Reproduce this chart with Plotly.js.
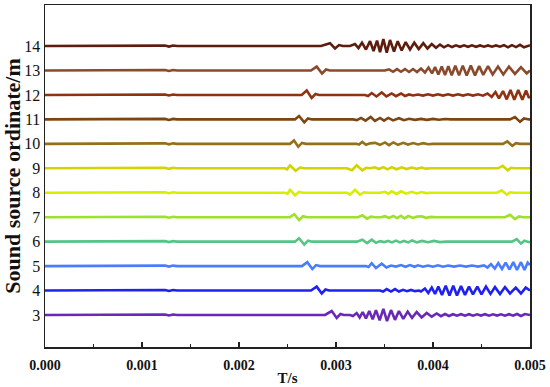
<!DOCTYPE html>
<html><head><meta charset="utf-8">
<script src="https://cdn.plot.ly/plotly-3.0.1.min.js"></script>
<style>html,body{margin:0;padding:0;background:#fff}#chart{width:550px;height:387px}</style>
</head><body><div id="chart"></div>
<script>
// Source positions (y baselines) and line colours
var sources = [14, 13, 12, 11, 10, 9, 8, 7, 6, 5, 4, 3];
var colors = ['#5e1c0c', '#8c4a2c', '#8e3212', '#7c4612', '#94701a', '#d2d400', '#d6ee00', '#9ee02a', '#55c486', '#4a7cff', '#2020f0', '#6a28b8'];
var yTickVals = [3, 4, 5, 6, 7, 8, 9, 10, 11, 12, 13, 14];
var xTickVals = [0, 0.001, 0.002, 0.003, 0.004, 0.005];

// Waveform key points: time (ms) and offset from baseline (m)
var t14 = [0, 1.186, 1.237, 1.278, 1.320, 1.361, 2.845, 2.938, 2.990, 3.031, 3.072, 3.144, 3.196, 3.232, 3.268, 3.309, 3.351, 3.387, 3.423, 3.454, 3.488, 3.523, 3.557, 3.598, 3.636, 3.677, 3.718, 3.763, 3.807, 3.853, 3.900, 3.943, 3.987, 4.031, 4.072, 4.113, 4.155, 4.196, 4.237, 4.278, 4.320, 4.361, 4.402, 4.443, 4.485, 4.526, 4.567, 4.608, 4.649, 4.691, 4.732, 4.773, 4.814, 4.856, 4.897, 4.938, 4.990, 5.0];
var a14 = [0, 0, 0.02, -0.02, 0.02, 0, 0, 0.12, -0.10, 0.04, 0, 0, 0.08, -0.08, 0.14, -0.14, 0.20, -0.20, 0.22, -0.25, 0.29, -0.27, 0.25, -0.22, 0.20, -0.18, 0.16, -0.14, 0.14, -0.12, 0.12, -0.10, 0.08, -0.07, 0.06, -0.05, 0.04, -0.04, 0.03, -0.03, 0.03, -0.03, 0.03, -0.03, 0.025, -0.025, 0.025, -0.025, 0.025, -0.025, 0.04, -0.05, 0.04, -0.04, 0.05, -0.05, 0.02, 0];

var t13 = [0, 1.186, 1.237, 1.278, 1.320, 1.361, 2.742, 2.801, 2.856, 2.897, 2.938, 3.505, 3.546, 3.588, 3.629, 3.670, 3.711, 3.753, 3.794, 3.835, 3.876, 3.917, 3.954, 3.990, 4.021, 4.055, 4.090, 4.124, 4.158, 4.193, 4.230, 4.268, 4.307, 4.347, 4.390, 4.433, 4.476, 4.518, 4.567, 4.615, 4.670, 4.725, 4.783, 4.845, 4.907, 4.966, 5.0];
var a13 = [0, 0, 0.02, -0.02, 0.02, 0, 0, 0.16, -0.12, 0.04, 0, 0, 0.05, -0.05, 0.06, -0.05, 0.06, -0.06, 0.06, -0.06, 0.08, -0.08, 0.12, -0.12, 0.14, -0.16, 0.16, -0.18, 0.18, -0.20, 0.20, -0.20, 0.20, -0.20, 0.20, -0.20, 0.18, -0.18, 0.18, -0.16, 0.16, -0.16, 0.16, -0.14, 0.14, -0.12, 0];

var t12 = [0, 1.186, 1.237, 1.278, 1.320, 1.361, 2.646, 2.698, 2.749, 2.789, 2.825, 3.299, 3.330, 3.368, 3.417, 3.471, 3.520, 3.574, 3.618, 3.670, 3.711, 3.753, 3.794, 3.845, 3.897, 3.948, 4.000, 4.051, 4.103, 4.155, 4.206, 4.258, 4.309, 4.361, 4.412, 4.464, 4.515, 4.562, 4.605, 4.644, 4.680, 4.722, 4.760, 4.799, 4.838, 4.879, 4.921, 4.959, 4.990, 5.0];
var a12 = [0, 0, 0.02, -0.02, 0.02, 0, 0, 0.18, -0.12, 0.04, 0, 0, -0.04, 0.08, -0.06, 0.10, -0.06, 0.06, -0.05, 0.06, -0.04, 0.02, -0.02, 0.02, -0.025, 0.025, -0.025, 0.025, -0.025, 0.025, -0.025, 0.025, -0.025, 0.025, -0.025, 0.025, -0.03, 0.06, -0.08, 0.12, -0.14, 0.16, -0.18, 0.20, -0.20, 0.20, -0.20, 0.18, -0.12, -0.06];

var t11 = [0, 1.186, 1.237, 1.278, 1.320, 1.361, 2.577, 2.619, 2.673, 2.711, 2.753, 3.175, 3.216, 3.258, 3.304, 3.358, 3.402, 3.454, 3.495, 3.539, 3.588, 3.649, 3.701, 3.753, 3.814, 3.876, 3.938, 4.000, 4.062, 4.124, 4.186, 4.794, 4.845, 4.897, 4.938, 4.990, 5.0];
var a11 = [0, 0, 0.02, -0.02, 0.02, 0, 0, 0.14, -0.12, 0.04, 0, 0, -0.03, 0.06, -0.05, 0.10, -0.06, 0.06, -0.05, 0.06, -0.04, 0.05, -0.03, 0.025, -0.02, 0.02, -0.02, 0.02, -0.015, 0.015, 0, 0, 0.10, -0.10, 0.04, 0, 0];

var t10 = [0, 1.186, 1.237, 1.278, 1.320, 1.361, 2.526, 2.567, 2.611, 2.649, 2.691, 3.213, 3.237, 3.271, 3.309, 3.351, 3.402, 3.454, 3.505, 3.546, 3.591, 3.639, 3.694, 3.742, 3.797, 3.845, 3.900, 3.948, 4.000, 4.722, 4.766, 4.817, 4.856, 4.897, 5.0];
var a10 = [0, 0, 0.02, -0.02, 0.02, 0, 0, 0.14, -0.12, 0.04, 0, 0, -0.03, 0.08, -0.04, 0.02, 0.04, -0.04, 0.06, -0.05, 0.06, -0.04, 0.04, -0.03, 0.03, -0.025, 0.03, -0.015, 0, 0, 0.10, -0.08, 0.03, 0, 0];

var t9 = [0, 1.186, 1.237, 1.278, 1.320, 1.361, 2.474, 2.495, 2.526, 2.584, 2.629, 2.670, 3.113, 3.165, 3.213, 3.271, 3.309, 3.351, 3.402, 3.443, 3.488, 3.531, 3.574, 3.624, 3.677, 3.727, 3.780, 3.830, 3.883, 3.928, 3.979, 4.670, 4.718, 4.770, 4.804, 4.845, 5.0];
var a9 = [0, 0, 0.02, -0.02, 0.02, 0, 0, -0.04, 0.12, -0.10, 0.03, 0, 0, -0.08, 0.12, -0.08, 0.02, 0, 0.04, -0.03, 0.05, -0.04, 0.05, -0.04, 0.04, -0.03, 0.03, -0.02, 0.025, -0.015, 0, 0, 0.10, -0.08, 0.02, 0, 0];

var t8 = [0, 1.186, 1.237, 1.278, 1.320, 1.361, 2.474, 2.500, 2.526, 2.577, 2.619, 2.660, 3.113, 3.144, 3.196, 3.247, 3.289, 3.330, 3.454, 3.505, 3.539, 3.574, 3.624, 3.670, 3.722, 3.780, 3.830, 3.883, 3.928, 3.979, 4.660, 4.708, 4.760, 4.794, 4.835, 5.0];
var a8 = [0, 0, 0.02, -0.02, 0.02, 0, 0, -0.04, 0.12, -0.10, 0.03, 0, 0, -0.08, 0.12, -0.08, 0.02, 0, 0, 0.04, -0.04, 0.06, -0.05, 0.06, -0.04, 0.04, -0.03, 0.03, -0.015, 0, 0, 0.10, -0.08, 0.02, 0, 0];

var t7 = [0, 1.186, 1.237, 1.278, 1.320, 1.361, 2.526, 2.570, 2.619, 2.660, 2.701, 3.227, 3.271, 3.320, 3.361, 3.402, 3.464, 3.505, 3.546, 3.591, 3.629, 3.670, 3.706, 3.745, 3.794, 3.835, 3.883, 3.928, 3.979, 4.031, 4.742, 4.794, 4.845, 4.887, 4.928, 5.0];
var a7 = [0, 0, 0.02, -0.02, 0.02, 0, 0, 0.12, -0.12, 0.04, 0, 0, 0.08, -0.06, 0.02, 0, 0, 0.04, -0.03, 0.05, -0.04, 0.06, -0.05, 0.05, -0.03, 0.025, 0.04, -0.025, 0.012, 0, 0, 0.10, -0.08, 0.03, 0, 0];

var t6 = [0, 1.186, 1.237, 1.278, 1.320, 1.361, 2.577, 2.619, 2.673, 2.711, 2.753, 3.216, 3.271, 3.320, 3.368, 3.412, 3.454, 3.495, 3.536, 3.577, 3.618, 3.660, 3.701, 3.745, 3.784, 3.835, 3.887, 3.948, 4.010, 4.072, 4.134, 4.814, 4.863, 4.907, 4.943, 4.990, 5.0];
var a6 = [0, 0, 0.02, -0.02, 0.02, 0, 0, 0.14, -0.12, 0.04, 0, 0, 0.08, -0.06, 0.08, -0.05, 0.02, -0.02, 0.03, -0.03, 0.04, -0.03, 0.03, -0.03, 0.05, -0.03, 0.03, -0.025, 0.03, -0.02, 0, 0, 0.10, -0.08, 0.04, -0.02, 0];

var t5 = [0, 1.186, 1.237, 1.278, 1.320, 1.361, 2.649, 2.704, 2.756, 2.794, 2.835, 3.309, 3.335, 3.368, 3.412, 3.471, 3.520, 3.567, 3.618, 3.670, 3.716, 3.763, 3.809, 3.845, 3.897, 3.948, 4.000, 4.051, 4.103, 4.155, 4.216, 4.278, 4.340, 4.402, 4.464, 4.526, 4.562, 4.598, 4.637, 4.673, 4.711, 4.749, 4.789, 4.828, 4.866, 4.907, 4.943, 4.976, 5.0];
var a5 = [0, 0, 0.02, -0.02, 0.02, 0, 0, 0.16, -0.12, 0.04, 0, 0, -0.04, 0.12, -0.08, 0.10, -0.06, 0.02, -0.02, 0.04, -0.03, 0.04, -0.03, 0.03, -0.025, 0.025, -0.025, 0.03, -0.025, 0.02, -0.02, 0.02, -0.02, 0.02, -0.02, 0.025, -0.06, 0.08, -0.10, 0.12, -0.12, 0.14, -0.14, 0.16, -0.16, 0.16, -0.16, 0.14, 0.04];

var t4 = [0, 1.186, 1.237, 1.278, 1.320, 1.361, 2.742, 2.801, 2.853, 2.892, 2.928, 3.454, 3.485, 3.523, 3.567, 3.608, 3.649, 3.691, 3.732, 3.773, 3.814, 3.856, 3.876, 3.917, 3.951, 3.987, 4.021, 4.055, 4.093, 4.131, 4.170, 4.209, 4.247, 4.289, 4.330, 4.371, 4.412, 4.457, 4.500, 4.546, 4.593, 4.639, 4.691, 4.742, 4.794, 4.853, 4.907, 4.956, 5.0];
var a4 = [0, 0, 0.02, -0.02, 0.02, 0, 0, 0.16, -0.12, 0.04, 0, 0, -0.04, 0.06, -0.04, 0.06, -0.04, 0.03, -0.025, 0.025, -0.025, 0, -0.04, 0.08, -0.10, 0.12, -0.14, 0.16, -0.18, 0.20, -0.20, 0.20, -0.20, 0.18, -0.18, 0.16, -0.16, 0.16, -0.16, 0.16, -0.14, 0.14, -0.14, 0.14, -0.12, 0.12, -0.12, 0.12, 0];

var t3 = [0, 1.186, 1.237, 1.278, 1.320, 1.361, 2.887, 2.956, 3.007, 3.046, 3.082, 3.144, 3.175, 3.213, 3.244, 3.275, 3.309, 3.343, 3.378, 3.412, 3.450, 3.488, 3.526, 3.567, 3.608, 3.649, 3.694, 3.739, 3.784, 3.832, 3.883, 3.935, 3.987, 4.038, 4.082, 4.124, 4.165, 4.206, 4.247, 4.289, 4.330, 4.371, 4.412, 4.454, 4.495, 4.536, 4.577, 4.619, 4.660, 4.701, 4.742, 4.784, 4.825, 4.866, 4.907, 4.948, 5.0];
var a3 = [0, 0, 0.02, -0.02, 0.02, 0, 0, 0.16, -0.12, 0.04, 0, 0, -0.04, 0.08, -0.10, 0.12, -0.14, 0.16, -0.18, 0.20, -0.22, 0.25, -0.25, 0.20, -0.20, 0.16, -0.16, 0.14, -0.12, 0.12, -0.10, 0.08, -0.07, 0.06, -0.05, 0.04, -0.04, 0.03, -0.03, 0.03, -0.03, 0.03, -0.03, 0.025, -0.025, 0.03, -0.03, 0.025, -0.025, 0.025, -0.03, 0.03, -0.03, 0.04, -0.04, 0.04, 0];

var times = [t14, t13, t12, t11, t10, t9, t8, t7, t6, t5, t4, t3];
var amps = [a14, a13, a12, a11, a10, a9, a8, a7, a6, a5, a4, a3];

var traces = sources.map(function (s, i) {
  return {
    type: 'scatter', mode: 'lines',
    x: times[i].map(function (v) { return v / 1000; }),
    y: amps[i].map(function (a) { return s + a; }),
    line: { color: colors[i], width: 2.6, shape: 'linear' },
    hoverinfo: 'skip'
  };
});

var serif = 'Liberation Serif, Times New Roman, serif';
var layout = {
  width: 550, height: 387,
  margin: { l: 45, r: 20, t: 5, b: 40 },
  paper_bgcolor: '#ffffff', plot_bgcolor: '#ffffff',
  showlegend: false,
  xaxis: {
    range: [0, 0.005], tickvals: xTickVals, ticktext: xTickVals.map(function (v) { return v.toFixed(3); }),
    ticks: 'inside', ticklen: 5, tickwidth: 1.2, tickcolor: '#222',
    minor: { ticks: 'inside', tickvals: [0.0005, 0.0015, 0.0025, 0.0035, 0.0045], ticklen: 3, tickwidth: 1, tickcolor: '#222', showgrid: false },
    showline: true, linecolor: '#222', linewidth: 1.5, mirror: true,
    showgrid: false, zeroline: false,
    tickfont: { family: serif, size: 14, color: '#111', weight: 'bold' },
    ticklabelstandoff: 5,
    title: { text: 'T/s', font: { family: serif, size: 15, color: '#111', weight: 'bold' }, standoff: 0 },
    automargin: false
  },
  yaxis: {
    range: [1.69, 15.68], tickvals: yTickVals, ticktext: yTickVals.map(String),
    ticks: '', showline: true, linecolor: '#222', linewidth: 1.5, mirror: true,
    showgrid: false, zeroline: false,
    tickfont: { family: serif, size: 16, color: '#111' },
    title: { text: 'Sound source ordinate/m', font: { family: serif, size: 22, color: '#111', weight: 'bold' }, standoff: 3 },
    automargin: false
  }
};

Plotly.newPlot('chart', traces, layout, { staticPlot: true, displayModeBar: false });
</script></body></html>
